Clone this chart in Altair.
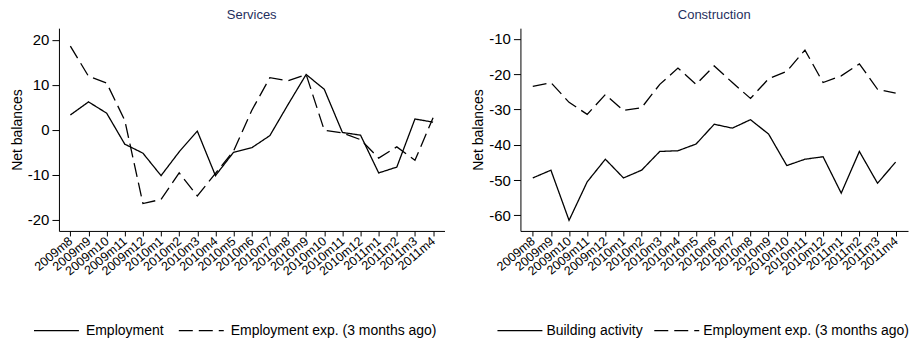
import altair as alt
import pandas as pd

months = ["2009m8", "2009m9", "2009m10", "2009m11", "2009m12", "2010m1", "2010m2",
          "2010m3", "2010m4", "2010m5", "2010m6", "2010m7", "2010m8", "2010m9",
          "2010m10", "2010m11", "2010m12", "2011m1", "2011m2", "2011m3", "2011m4"]

services_employment = [3.3, 6.2, 3.7, -3.2, -5.2, -10.2, -4.9, -0.3, -10.2, -5.0, -4.0,
                       -1.3, 5.6, 12.3, 9.0, -0.6, -1.2, -9.6, -8.3, 2.4, 1.7]
services_emp_exp = [18.6, 11.9, 10.4, 2.1, -16.4, -15.5, -9.6, -14.7, -9.7, -4.7, 4.3,
                    11.6, 10.9, 12.3, -0.1, -0.7, -2.2, -6.3, -3.8, -6.8, 2.7]

construction_activity = [-49.4, -47.2, -61.4, -50.5, -44.1, -49.4, -47.2, -41.9, -41.7,
                         -39.8, -34.2, -35.3, -32.9, -37.0, -45.9, -44.1, -43.4, -53.7,
                         -41.9, -50.9, -44.9]
construction_emp_exp = [-23.5, -22.4, -28.0, -31.4, -25.8, -30.3, -29.5, -22.9, -18.3,
                        -22.9, -17.7, -22.4, -26.9, -21.3, -19.2, -13.2, -22.4, -20.5,
                        -17.1, -24.3, -25.4]

FONT = "Liberation Sans"


def long_df(a_name, a_vals, b_name, b_vals):
    rows = []
    for m, v in zip(months, a_vals):
        rows.append({"month": m, "series": a_name, "value": v})
    for m, v in zip(months, b_vals):
        rows.append({"month": m, "series": b_name, "value": v})
    return pd.DataFrame(rows)


def panel(df, title, names, ydomain, yticks, xpad, width, legend_x, col_pad, lab_off):
    return alt.Chart(df).mark_line(color="black", strokeWidth=1.3).encode(
        x=alt.X("month:N", sort=months, scale=alt.Scale(type="point", padding=xpad),
                axis=alt.Axis(title=None, labelAngle=-40, labelAlign="right",
                              labelBaseline="middle", labelFontSize=12.5, labelPadding=3,
                              labelOverlap=False, tickSize=5)),
        y=alt.Y("value:Q", scale=alt.Scale(domain=ydomain, nice=False, zero=False),
                axis=alt.Axis(title="Net balances", values=yticks, labelFontSize=15,
                              labelExpr="replace(datum.label, '\u2212', '-')",
                              titleFontSize=14, titleFontWeight="normal", tickSize=7,
                              labelPadding=3, titlePadding=3, grid=False)),
        strokeDash=alt.StrokeDash(
            "series:N",
            scale=alt.Scale(domain=names, range=[[1, 0], [14, 6]]),
            legend=alt.Legend(title=None, orient="none", direction="horizontal",
                              legendX=legend_x, legendY=279, symbolType="stroke",
                              symbolSize=2025, symbolStrokeWidth=1.3,
                              symbolStrokeColor="black", labelFontSize=14,
                              labelOffset=lab_off, columnPadding=col_pad, padding=0,
                              labelColor="black", labelLimit=400)),
    ).properties(
        width=width, height=203,
        title=alt.TitleParams(title, fontSize=13, fontWeight="normal", color="#1f2f5e",
                              anchor="middle", offset=6, font=FONT),
    )


left = panel(long_df("Employment", services_employment,
                     "Employment exp. (3 months ago)", services_emp_exp),
             "Services", ["Employment", "Employment exp. (3 months ago)"],
             [-22.5, 22.6], [-20, -10, 0, 10, 20], 0.63, 386, -26, 12, 6)

right = panel(long_df("Building activity", construction_activity,
                      "Employment exp. (3 months ago)", construction_emp_exp),
              "Construction", ["Building activity", "Employment exp. (3 months ago)"],
              [-64.4, -7.0], [-60, -50, -40, -30, -20, -10], 0.68, 388, -24, 8, 3)

chart = alt.hconcat(left, right, spacing=76, bounds="flush").resolve_scale(
    strokeDash="independent", y="independent", x="independent"
).resolve_legend(strokeDash="independent").properties(
    padding={"left": 2, "top": 1, "right": 0, "bottom": 0}
).configure_view(stroke=None).configure_axis(
    labelFont=FONT, titleFont=FONT, domainColor="black", tickColor="black",
    labelColor="black", titleColor="black", domainWidth=1, tickWidth=1
).configure_legend(labelFont=FONT)

chart.save("out.html", embed_options={"renderer": "svg", "actions": False})
